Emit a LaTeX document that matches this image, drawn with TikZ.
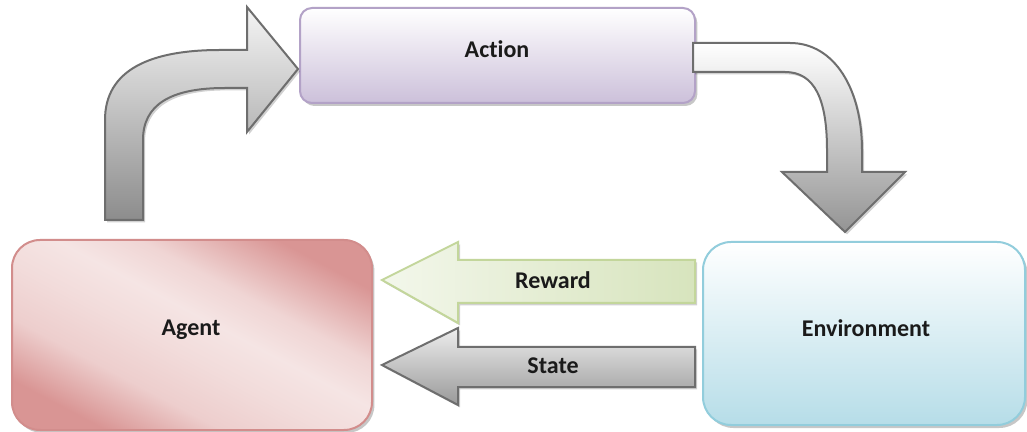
\documentclass[tikz,border=0pt]{standalone}
\usepackage{fontspec}
\setmainfont{Carlito}[Ligatures=NoCommon]
\usetikzlibrary{shadows}
\definecolor{actBot}{HTML}{CCC0DA}
\definecolor{actBorder}{HTML}{B3A2C7}
\definecolor{agDark}{HTML}{D99594}
\definecolor{agLight}{HTML}{F2DCDB}
\definecolor{agBorder}{HTML}{D28D8C}
\definecolor{envBot}{HTML}{B6DDE8}
\definecolor{envBorder}{HTML}{92CDDC}
\definecolor{rwFill}{HTML}{D7E4BD}
\definecolor{rwBorder}{HTML}{C3D69B}
\definecolor{arrBorder}{HTML}{6E6E6E}
\definecolor{txt}{HTML}{1A1A1A}
\pgfdeclarehorizontalshading{agentshade}{100bp}{color(0bp)=(agDark); color(25bp)=(agDark); color(36bp)=(agLight!80!agDark); color(46bp)=(agLight); color(54bp)=(agLight!75!white); color(62bp)=(agLight!90!agDark); color(75bp)=(agDark); color(100bp)=(agDark)}
\begin{document}
\begin{tikzpicture}[x=0.5pt,y=-0.5pt, font=\bfseries\fontsize{12}{14}\selectfont]
\tikzset{
  box/.style={draw, line width=1pt, align=center, inner sep=0pt, text=txt,
    drop shadow={shadow xshift=1.2pt, shadow yshift=-1.5pt, opacity=0.22, fill=black}},
  blockarrow/.style={draw=arrBorder, line width=1pt, line join=miter,
    drop shadow={shadow xshift=1pt, shadow yshift=-1.2pt, opacity=0.18, fill=black}},
  lbl/.style={inner sep=0pt, text=txt}
}
\useasboundingbox (0,0) rectangle (1027,432);
\fill[white] (0,0) rectangle (1027,432);

% boxes
\node[box, draw=actBorder, top color=white, bottom color=actBot, rounded corners=6pt,
  minimum width=197.5pt, minimum height=47.5pt] (action) at (497.5,55.5) {};
\node[lbl] (actiontxt) at (497,49) {Action};

\node[box, draw=agBorder, shading=agentshade, shading angle=62, rounded corners=14pt,
  minimum width=180pt, minimum height=95pt] (agent) at (192,335) {};
\node[lbl] (agenttxt) at (191,330) {Agent};

\node[box, draw=envBorder, top color=white, bottom color=envBot, rounded corners=14pt,
  minimum width=161pt, minimum height=91.5pt] (env) at (864,333.5) {};
\node[lbl] (envtxt) at (866,328) {Environment};

% curved arrow agent -> action
\path[blockarrow, top color=white!96!black, bottom color=black!45]
  (105,220) -- (105,120) .. controls (105,70) and (150,50) .. (220,50) -- (247,50)
  -- (247,7) -- (298,69) -- (247,132) -- (247,88) -- (225,88)
  .. controls (170,88) and (143,105) .. (143,140) -- (143,220) -- cycle;

% curved arrow action -> environment
\path[blockarrow, top color=white, bottom color=black!42]
  (693,43) -- (790,43) .. controls (835,43) and (862,90) .. (862,150) -- (862,172)
  -- (905,172) -- (845,232) -- (782,172) -- (827,172) -- (827,150)
  .. controls (827,100) and (815,72) .. (785,72) -- (693,72) -- cycle;

% reward arrow
\path[blockarrow, draw=rwBorder, left color=white!70!rwFill, right color=rwFill]
  (382,280) -- (458,242) -- (458,260) -- (695,260) -- (695,303) -- (458,303)
  -- (458,323) -- cycle;
\node[lbl] (reward) at (553,280) {Reward};

% state arrow
\path[blockarrow, top color=white!93!black, bottom color=black!40]
  (382,365) -- (458,328) -- (458,347) -- (695,347) -- (695,387) -- (458,387)
  -- (458,405) -- cycle;
\node[lbl] (state) at (553,366) {State};
\end{tikzpicture}
\end{document}
